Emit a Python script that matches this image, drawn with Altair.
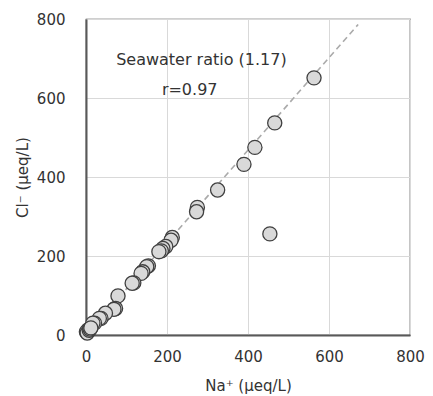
import altair as alt
import pandas as pd

na = [563, 466, 417, 390, 325, 275, 273, 213, 210, 197, 190, 186, 180, 154, 150,
      140, 136, 118, 114, 79, 73, 69, 48, 37, 33, 21, 17, 5, 1, 3, 8, 10, 12, 454]
cl = [651, 537, 475, 432, 367, 323, 312, 247, 240, 224, 219, 213, 211, 175, 173,
      160, 156, 132, 131, 99, 67, 65, 55, 42, 42, 30, 30, 13, 8, 5, 12, 15, 18, 256]

ratio = 1.17
line_x = [0, 672]
ann_text = ["Seawater ratio (1.17)", "r=0.97"]
ann_x = [285, 256]
ann_y = [696, 620]

pts = pd.DataFrame({"na": na, "cl": cl})
ln = pd.DataFrame({"na": line_x, "cl": [v * ratio for v in line_x]})
ann = pd.DataFrame({"t": ann_text, "na": ann_x, "cl": ann_y})

FONT = "DejaVu Sans"
xs = alt.Scale(domain=[0, 800], nice=False)
ys = alt.Scale(domain=[0, 800], nice=False)

xax = alt.Axis(values=[0, 200, 400, 600, 800], title="Na⁺ (μeq/L)", ticks=False,
               labelFlush=False, labelOverlap=False,
               labelPadding=14, titlePadding=14, domainColor="#595959", domainWidth=2,
               gridColor="#d9d9d9", labelFontSize=15, titleFontSize=15,
               labelFont=FONT, titleFont=FONT, labelColor="#333", titleColor="#333",
               titleFontWeight="normal")
yax = alt.Axis(values=[0, 200, 400, 600, 800], title="Cl⁻ (μeq/L)", ticks=False,
               labelFlush=False, labelOverlap=False,
               labelPadding=21, titlePadding=6, domainColor="#595959", domainWidth=2,
               gridColor="#d9d9d9", labelFontSize=15, titleFontSize=15,
               labelFont=FONT, titleFont=FONT, labelColor="#333", titleColor="#333",
               titleFontWeight="normal")

line = alt.Chart(ln).mark_line(color="#aaaaaa", strokeDash=[6, 4], strokeWidth=1.6).encode(
    x=alt.X("na:Q", scale=xs, axis=xax),
    y=alt.Y("cl:Q", scale=ys, axis=yax),
)
points = alt.Chart(pts).mark_point(filled=True, shape="circle", size=200, fill="#d9d9d9",
                                   fillOpacity=1, stroke="#404040", strokeWidth=1.3,
                                   opacity=1).encode(
    x=alt.X("na:Q", scale=xs),
    y=alt.Y("cl:Q", scale=ys),
)
text = alt.Chart(ann).mark_text(font=FONT, fontSize=16, color="#333").encode(
    x=alt.X("na:Q", scale=xs),
    y=alt.Y("cl:Q", scale=ys),
    text="t:N",
)

chart = alt.layer(line, points, text).properties(
    width=324, height=316,
    autosize=alt.AutoSizeParams(type="none"),
    padding={"left": 78, "top": 11, "right": 15, "bottom": 60},
).configure_view(stroke="#404040", strokeWidth=1.2)

chart.save("out.html", embed_options={"renderer": "svg", "actions": False})
